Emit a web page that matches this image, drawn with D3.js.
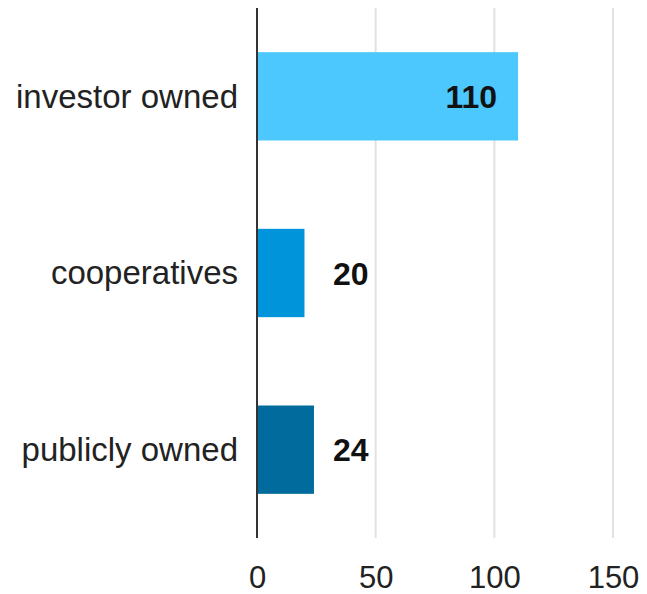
<!DOCTYPE html>
<html><head><meta charset="utf-8">
<script src="https://cdn.jsdelivr.net/npm/d3@7"></script>
<style>body{margin:0;background:#fff}svg{display:block}text{font-family:Arial,"Liberation Sans",sans-serif}</style>
</head><body>
<script>
const categories = ["investor owned", "cooperatives", "publicly owned"];
const values = [110, 20, 24];
const colors = ["#4cc8ff", "#0095da", "#006b9c"];
const xTicks = [0, 50, 100, 150];

const W = 647, H = 594;
const m = {left: 257, right: 34, top: 8, bottom: 56};
const svg = d3.select("body").append("svg").attr("width", W).attr("height", H);

const x = d3.scaleLinear().domain([0, 150]).range([m.left, m.left + (613 - 257)]);
const y = d3.scaleBand().domain(categories).range([m.top, H - m.bottom]).paddingInner(0.5).paddingOuter(0.25);

// gridlines
svg.append("g").selectAll("line").data(xTicks.filter(d => d !== 0)).join("line")
  .attr("x1", d => x(d)).attr("x2", d => x(d))
  .attr("y1", m.top).attr("y2", H - m.bottom)
  .attr("stroke", "#e2e2e2").attr("stroke-width", 2);

// bars
const data = categories.map((c, i) => ({c, v: values[i], col: colors[i]}));
svg.append("g").selectAll("rect").data(data).join("rect")
  .attr("x", x(0)).attr("y", d => y(d.c))
  .attr("width", d => x(d.v) - x(0)).attr("height", y.bandwidth())
  .attr("fill", d => d.col);

// axis line
svg.append("line").attr("x1", x(0)).attr("x2", x(0)).attr("y1", m.top).attr("y2", H - m.bottom)
  .attr("stroke", "#333").attr("stroke-width", 2);

// x tick labels
const xAxis = d3.axisBottom(x).tickValues(xTicks).tickSize(0).tickPadding(0);
const gx = svg.append("g").attr("transform", `translate(0,${H - m.bottom})`).call(xAxis);
gx.select(".domain").remove();
gx.selectAll("text").attr("y", 50).attr("dy", 0).attr("font-size", 31).attr("fill", "#222")
  .style("font-family", "Arial, 'Liberation Sans', sans-serif");

// category labels
const yAxis = d3.axisLeft(y).tickSize(0).tickPadding(19);
const gy = svg.append("g").attr("transform", `translate(${x(0)},0)`).call(yAxis);
gy.select(".domain").remove();
gy.selectAll("text").attr("font-size", 33).attr("fill", "#222").attr("dy", "0.34em")
  .style("font-family", "Arial, 'Liberation Sans', sans-serif");

// value labels
svg.append("g").selectAll("text").data(data).join("text")
  .attr("x", d => d.v > 50 ? x(d.v) - 21 : x(0) + 76)
  .attr("y", d => y(d.c) + y.bandwidth() / 2)
  .attr("dy", "0.36em")
  .attr("text-anchor", d => d.v > 50 ? "end" : "start")
  .attr("font-size", 32).attr("font-weight", "bold").attr("fill", "#111")
  .text(d => d.v);
</script>
</body></html>
